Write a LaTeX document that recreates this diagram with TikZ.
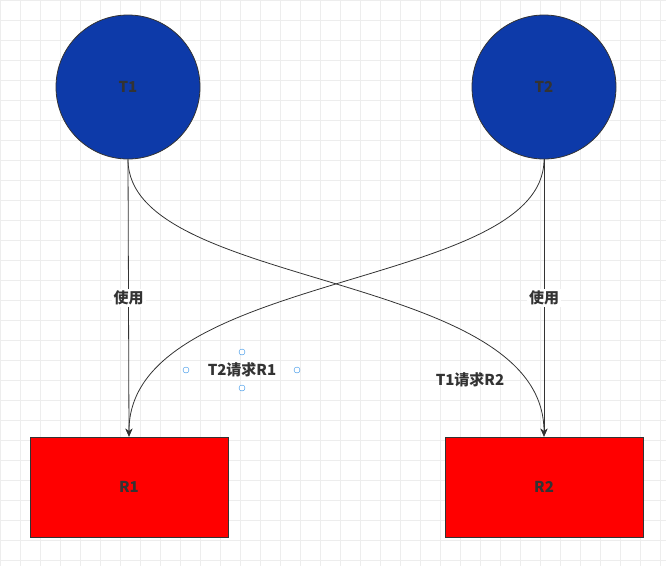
\documentclass[tikz,border=0pt]{standalone}
\usepackage{fontspec}
\setmainfont{Noto Sans CJK SC}
\usetikzlibrary{arrows.meta}
\definecolor{tblue}{HTML}{0D3AA9}
\definecolor{ink}{HTML}{333333}
\definecolor{gridc}{HTML}{EDEDED}
\definecolor{hblue}{HTML}{2E8FE6}
\tikzset{
thread/.style={circle, draw=ink, thick, fill=tblue, minimum size=144pt, inner sep=0pt, text=ink, font=\fontsize{15}{18}\selectfont\bfseries},
res/.style={rectangle, draw=ink, thick, fill=red, minimum width=198pt, minimum height=100pt, text=ink, font=\fontsize{15}{18}\selectfont\bfseries},
lbl/.style={fill=white, text=ink, font=\fontsize{15}{18}\selectfont\bfseries, inner sep=2pt},
link/.style={draw=ink, thick, -{Stealth[length=8pt,width=7pt]}},
handle/.style={circle, draw=hblue, fill=white, inner sep=0pt, minimum size=6pt}
}
\begin{document}
\begin{tikzpicture}[x=1pt, y=-1pt]
\useasboundingbox (0,0) rectangle (666,566);
\draw[gridc, step=20pt] (0,0) grid (666,566);

\node[thread] (t1) at (128,87) {T1};
\node[thread] (t2) at (544,87) {T2};
\node[res] (r1) at (129,487) {R1};
\node[res] (r2) at (544,487) {R2};

\draw[link] (t1.south) -- node[lbl, pos=0.5] {使用} (r1.north);
\draw[link] (t2.south) -- node[lbl, pos=0.5] {使用} (r2.north);
\draw[link] (t1.south) .. controls (128,290) and (544,270) .. (r2.north);
\draw[link] (t2.south) .. controls (544,290) and (128,270) .. (r1.north);

\node[lbl, fill=none] (q1) at (242,370) {T2请求R1};
\node[lbl, fill=none] (q2) at (470,380) {T1请求R2};
\node[handle] (h1) at (186,370) {};
\node[handle] (h2) at (297,370) {};
\node[handle] (h3) at (242,352) {};
\node[handle] (h4) at (242,388) {};
\end{tikzpicture}
\end{document}
